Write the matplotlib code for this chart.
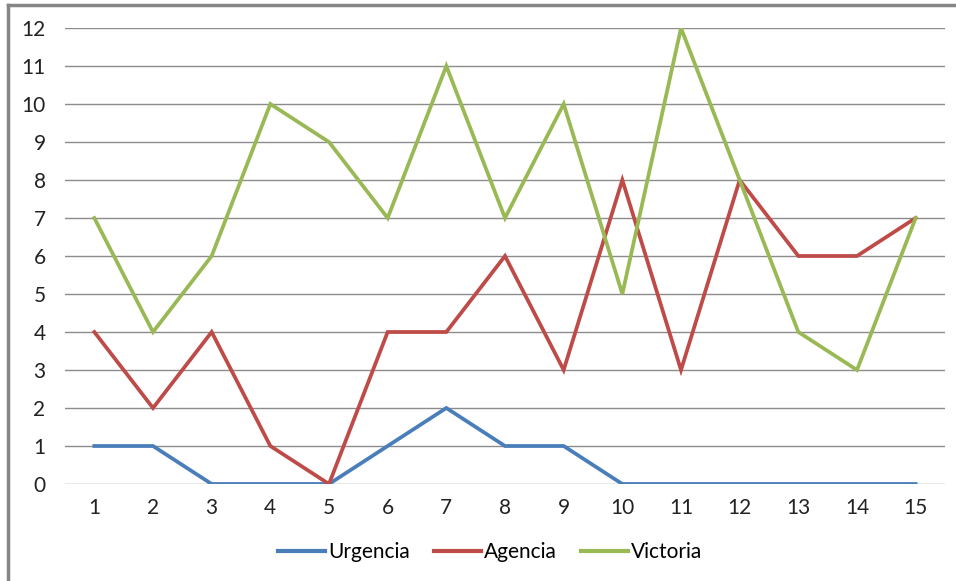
import matplotlib
matplotlib.use("Agg")
import matplotlib.pyplot as plt
from matplotlib.lines import Line2D

x = list(range(1, 16))
urgencia = [1, 1, 0, 0, 0, 1, 2, 1, 1, 0, 0, 0, 0, 0, 0]
agencia = [4, 2, 4, 1, 0, 4, 4, 6, 3, 8, 3, 8, 6, 6, 7]
victoria = [7, 4, 6, 10, 9, 7, 11, 7, 10, 5, 12, 8, 4, 3, 7]
names = ["Urgencia", "Agencia", "Victoria"]
colors = ["#4A7EBB", "#BE4B48", "#98B954"]

plt.rcParams["font.family"] = ["Lato", "DejaVu Sans"]
fig = plt.figure(figsize=(9.56, 5.81), dpi=100)
ax = fig.add_axes([65 / 956, 1 - 484 / 581, 880 / 956, 456 / 581])

for ys, c, n in zip([urgencia, agencia, victoria], colors, names):
    ax.plot(x, ys, color=c, lw=2.7, label=n, solid_joinstyle="miter", zorder=3)

ax.set_xlim(0.5, 15.5)
ax.set_ylim(0, 12)
ax.set_yticks(range(0, 13))
ax.set_xticks(x)
ax.grid(axis="y", color="#8c8c8c", lw=1)
ax.set_axisbelow(True)
for s in ax.spines.values():
    s.set_visible(False)
ax.tick_params(length=0, labelsize=15, colors="#222222")
ax.tick_params(axis="y", pad=14)
ax.tick_params(axis="x", pad=10)

handles = [Line2D([], [], color=c, lw=3) for c in colors]
fig.legend(handles, names, loc="center", bbox_to_anchor=(490 / 956, 1 - 552 / 581),
           ncol=3, frameon=False, fontsize=15, handlelength=2.25, handletextpad=0.15,
           columnspacing=1.15)

# chart frame (top and left edges)
fig.add_artist(Line2D([8 / 956, 955 / 956], [1 - 5 / 581] * 2, color="#868686", lw=2.5))
fig.add_artist(Line2D([8 / 956] * 2, [1 - 5 / 581, 0], color="#868686", lw=2.5))

fig.savefig("out.png", dpi=100)
